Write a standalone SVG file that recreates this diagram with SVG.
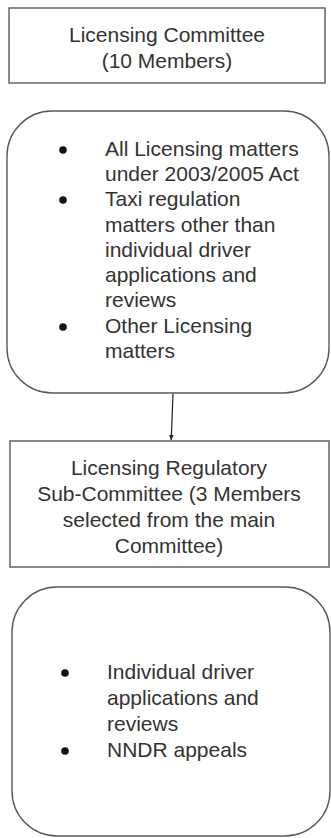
<svg xmlns="http://www.w3.org/2000/svg" width="331" height="838" viewBox="0 0 331 838">
<style>
.box{fill:#fff;stroke:#595959;stroke-width:1.4}
.t{font-family:"Liberation Sans",Arial,sans-serif;font-size:21px;fill:#333}
.c{text-anchor:middle}
.b{fill:#111}
.conn{stroke:#222;stroke-width:1.2;fill:none}
</style>
<defs>
<marker id="ah" viewBox="0 0 10 10" refX="9" refY="5" markerWidth="6" markerHeight="6" orient="auto" markerUnits="userSpaceOnUse">
<path d="M0,1 L10,5 L0,9 z" fill="#222"/>
</marker>
</defs>
<rect width="331" height="838" fill="#fff"/>
<g id="licensing-committee">
<rect class="box" x="9" y="8" width="316" height="75"/>
<text class="t c" x="167" y="42">Licensing Committee</text>
<text class="t c" x="167" y="68">(10 Members)</text>
</g>
<g id="committee-matters">
<rect class="box" x="7" y="111" width="322" height="282" rx="45" ry="45"/>
<circle class="b" cx="63" cy="150" r="3.8"/>
<circle class="b" cx="63" cy="200" r="3.8"/>
<circle class="b" cx="63" cy="327" r="3.8"/>
<text class="t" x="105" y="156">All Licensing matters</text>
<text class="t" x="105" y="181">under 2003/2005 Act</text>
<text class="t" x="105" y="206">Taxi regulation</text>
<text class="t" x="105" y="232">matters other than</text>
<text class="t" x="105" y="257">individual driver</text>
<text class="t" x="105" y="282">applications and</text>
<text class="t" x="105" y="307">reviews</text>
<text class="t" x="105" y="333">Other Licensing</text>
<text class="t" x="105" y="358">matters</text>
</g>
<g id="sub-committee">
<rect class="box" x="10" y="441" width="319" height="126"/>
<text class="t c" x="169" y="475">Licensing Regulatory</text>
<text class="t c" x="169" y="501">Sub-Committee (3 Members</text>
<text class="t c" x="169" y="527">selected from the main</text>
<text class="t c" x="169" y="553">Committee)</text>
</g>
<g id="sub-committee-matters">
<rect class="box" x="12" y="587" width="318" height="249" rx="45" ry="45"/>
<circle class="b" cx="65" cy="673" r="3.8"/>
<circle class="b" cx="65" cy="751" r="3.8"/>
<text class="t" x="107" y="679">Individual driver</text>
<text class="t" x="107" y="705">applications and</text>
<text class="t" x="107" y="731">reviews</text>
<text class="t" x="107" y="757">NNDR appeals</text>
</g>
<g id="connectors">
<line class="conn" x1="173" y1="394" x2="171.2" y2="440" marker-end="url(#ah)"/>
</g>
</svg>
